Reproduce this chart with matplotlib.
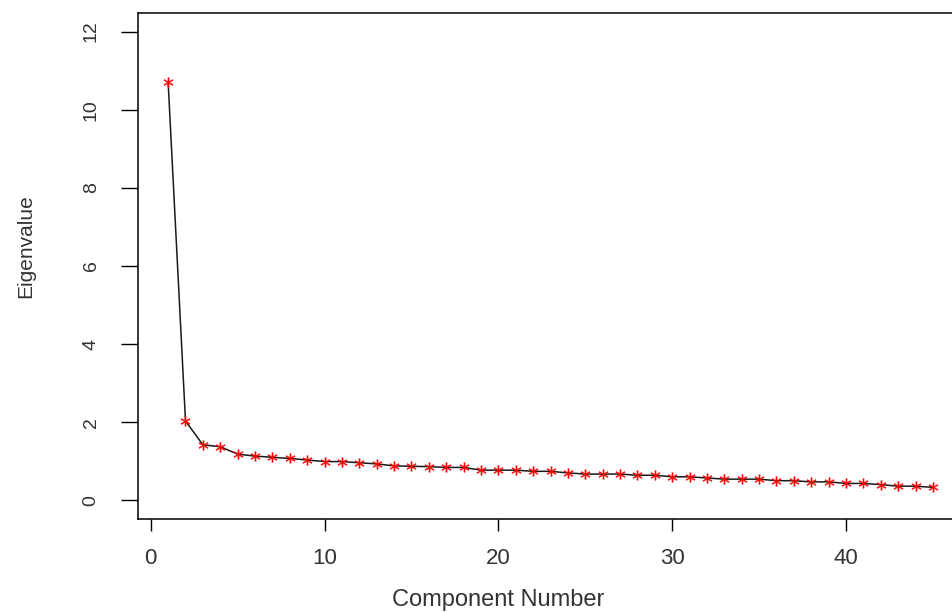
import matplotlib
matplotlib.use("Agg")
import matplotlib.pyplot as plt

plt.rcParams['font.family'] = ['Liberation Sans', 'DejaVu Sans']

# Scree plot data
components = list(range(1, 46))
eigenvalues = [10.72, 2.03, 1.42, 1.37, 1.18, 1.13, 1.10, 1.07, 1.03, 0.99,
               0.99, 0.96, 0.93, 0.88, 0.87, 0.86, 0.84, 0.84, 0.77, 0.77,
               0.77, 0.74, 0.74, 0.70, 0.67, 0.67, 0.67, 0.64, 0.64, 0.60,
               0.60, 0.57, 0.54, 0.54, 0.54, 0.50, 0.50, 0.47, 0.47, 0.43,
               0.43, 0.40, 0.36, 0.36, 0.33]
x_ticks = [0, 10, 20, 30, 40]
y_ticks = [0, 2, 4, 6, 8, 10, 12]

fig = plt.figure(figsize=(9.53, 6.12), dpi=100)
# plot region runs a little past the right edge, as in the reference
ax = fig.add_axes([0.1443, 0.152, 0.8667, 0.827])

ax.plot(components, eigenvalues, color="#1a1a1a", linewidth=1.1, zorder=2)
ax.plot(components, eigenvalues, linestyle="none", marker="$*$",
        markersize=7, color="red", markeredgewidth=0.25, zorder=3)

ax.set_xlim(-0.76, 46.76)
ax.set_ylim(-0.48, 12.48)
ax.set_xticks(x_ticks)
ax.set_yticks(y_ticks)
ax.set_xticklabels([str(t) for t in x_ticks], fontsize=16, color="#333333")
ax.set_yticklabels([str(t) for t in y_ticks], fontsize=14, color="#333333",
                   rotation=90, va="center")
ax.tick_params(axis="x", length=8.6, width=1.0, pad=12, direction="out")
ax.tick_params(axis="y", length=12.2, width=1.0, pad=15, direction="out")

for s in ax.spines.values():
    s.set_linewidth(1.1)
    s.set_color("black")

ax.set_xlabel("Component Number", fontsize=17, color="#333333")
ax.xaxis.set_label_coords(0.4365, -0.16)
ax.xaxis.label.set_va("center")
ax.set_ylabel("Eigenvalue", fontsize=15, color="#333333")
ax.yaxis.set_label_coords(-0.135, 0.54)
ax.yaxis.label.set_va("center")

fig.savefig("out.png", dpi=100)
